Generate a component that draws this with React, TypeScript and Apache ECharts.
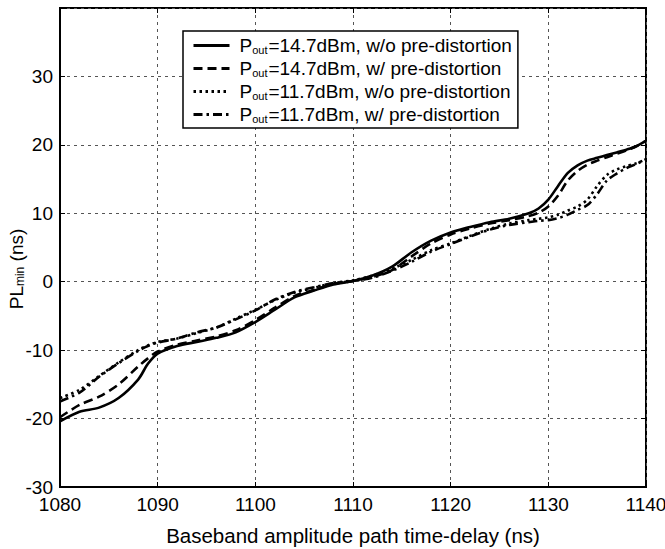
import React, { useEffect, useRef } from "react";
import * as echarts from "echarts";

const delays = [1080, 1082, 1084, 1086, 1088, 1089, 1090, 1092, 1094, 1096, 1098, 1100, 1102, 1104, 1106, 1108, 1110, 1112, 1114, 1116, 1118, 1120, 1122, 1124, 1126, 1128, 1129, 1130, 1131, 1132, 1133, 1134, 1135, 1136, 1137, 1138, 1139, 1140];

const hiNoPd = [-20.4, -19.0, -18.4, -17.0, -14.3, -12.0, -10.5, -9.4, -8.8, -8.2, -7.4, -5.9, -4.1, -2.3, -1.3, -0.4, 0.1, 0.9, 2.2, 4.3, 6.0, 7.2, 8.0, 8.7, 9.2, 10.0, 10.7, 12.0, 14.0, 15.9, 17.0, 17.7, 18.1, 18.5, 18.9, 19.3, 19.8, 20.6];
const hiPd = [-19.8, -18.0, -16.8, -15.0, -12.4, -11.2, -10.2, -9.2, -8.6, -8.0, -7.1, -5.6, -3.8, -2.1, -1.2, -0.3, 0.1, 0.7, 1.7, 3.7, 5.6, 6.9, 7.8, 8.5, 9.0, 9.6, 10.1, 11.0, 12.6, 14.8, 16.2, 17.1, 17.7, 18.2, 18.7, 19.2, 19.8, 20.6];
const loNoPd = [-17.0, -15.8, -13.8, -11.8, -10.0, -9.3, -8.8, -8.3, -7.5, -6.7, -5.4, -4.1, -2.7, -1.6, -0.9, -0.2, 0.2, 0.9, 1.9, 3.2, 4.6, 5.6, 6.7, 7.7, 8.5, 9.0, 9.2, 9.4, 9.8, 10.4, 11.0, 12.0, 14.0, 15.6, 16.4, 16.9, 17.3, 17.9];
const loPd = [-17.5, -16.2, -13.9, -11.9, -10.1, -9.4, -8.9, -8.3, -7.4, -6.7, -5.5, -4.2, -2.6, -1.5, -0.8, -0.2, 0.1, 0.6, 1.6, 2.9, 4.4, 5.5, 6.6, 7.6, 8.3, 8.7, 8.9, 9.0, 9.3, 9.8, 10.5, 11.2, 12.8, 14.8, 15.8, 16.6, 17.2, 17.9];

const seriesNames = [
  "Pout=14.7dBm, w/o pre-distortion",
  "Pout=14.7dBm, w/ pre-distortion",
  "Pout=11.7dBm, w/o pre-distortion",
  "Pout=11.7dBm, w/ pre-distortion",
];
const seriesValues = [hiNoPd, hiPd, loNoPd, loPd];
const dashTypes: any[] = ["solid", [9, 5], [2.5, 3.5], [9, 4, 2.5, 4]];

const FONT = "Liberation Sans, Arial, Helvetica, sans-serif";

export default function App() {
  const ref = useRef<HTMLDivElement>(null);
  useEffect(() => {
    if (!ref.current) return;
    const chart = echarts.init(ref.current, null, { renderer: "svg" });
    const tickStyle = { show: true, inside: true, length: 5, lineStyle: { color: "#000", width: 1 } };
    const splitLine = { show: true, lineStyle: { color: "#555", type: [3, 4], width: 1 } };
    chart.setOption({
      animation: false,
      backgroundColor: "#fff",
      grid: {
        left: 60,
        right: 19,
        top: 8,
        bottom: 62,
        containLabel: false,
        outerBoundsMode: "none",
        show: true,
        borderColor: "#000",
        borderWidth: 2,
        backgroundColor: "transparent",
      },
      graphic: [
        {
          type: "text",
          x: 16,
          y: 269,
          rotation: Math.PI / 2,
          style: {
            text: "{a|PL}{b|min}{a| (ns)}",
            align: "center",
            verticalAlign: "middle",
            fill: "#000",
            font: "19px " + FONT,
            rich: {
              a: { fontSize: 19, fontFamily: FONT, fill: "#000", color: "#000" },
              b: { fontSize: 12, fontFamily: FONT, fill: "#000", color: "#000", verticalAlign: "bottom" },
            },
          },
        },
      ],
      legend: {
        orient: "vertical",
        left: 183,
        top: 31,
        padding: [5, 6, 4, 9],
        itemGap: 4,
        itemWidth: 36,
        itemHeight: 14,
        backgroundColor: "#fff",
        borderColor: "#000",
        borderWidth: 1.5,
        borderRadius: 0,
        itemStyle: { opacity: 0 },
        lineStyle: { width: 3 },
        data: seriesNames,
        formatter: (name: string) => {
          const rest = name.slice(4);
          return "{p|P}{s|out}{t|" + rest + "}";
        },
        textStyle: {
          color: "#000",
          fontFamily: FONT,
          fontSize: 19,
          rich: {
            p: { fontSize: 19, fontFamily: FONT, color: "#000", padding: [0, 0, 0, 5] },
            s: { fontSize: 11, fontFamily: FONT, color: "#000", verticalAlign: "bottom", padding: [0, 1, 0, 0] },
            t: { fontSize: 19, fontFamily: FONT, color: "#000" },
          },
        },
      },
      xAxis: [
        {
          type: "value",
          min: 1080,
          max: 1140,
          interval: 10,
          position: "bottom",
          axisLine: { show: true, onZero: false, lineStyle: { color: "#000", width: 2 } },
          axisTick: tickStyle,
          axisLabel: { color: "#000", fontSize: 19, fontFamily: FONT, margin: 8, formatter: (v: number) => String(v) },
          splitLine,
          name: "Baseband amplitude path time-delay (ns)",
          nameLocation: "middle",
          nameGap: 38,
          nameTextStyle: { color: "#000", fontSize: 20.5, fontFamily: FONT },
        },
        {
          type: "value",
          min: 1080,
          max: 1140,
          interval: 10,
          position: "top",
          axisLine: { show: false, onZero: false },
          axisTick: tickStyle,
          axisLabel: { show: false },
          splitLine: { show: false },
        },
      ],
      yAxis: [
        {
          type: "value",
          min: -30,
          max: 40,
          interval: 10,
          position: "left",
          axisLine: { show: true, onZero: false, lineStyle: { color: "#000", width: 2 } },
          axisTick: tickStyle,
          axisLabel: {
            color: "#000",
            fontSize: 19,
            fontFamily: FONT,
            margin: 7,
            formatter: (v: number) => (v === 40 ? "" : String(v)),
          },
          splitLine,
        },
        {
          type: "value",
          min: -30,
          max: 40,
          interval: 10,
          position: "right",
          axisLine: { show: false, onZero: false },
          axisTick: tickStyle,
          axisLabel: { show: false },
          splitLine: { show: false },
        },
      ],
      series: seriesNames.map((name, i) => ({
        name,
        type: "line",
        xAxisIndex: 0,
        yAxisIndex: 0,
        showSymbol: false,
        symbol: "none",
        smooth: 0.3,
        data: delays.map((d, k) => [d, seriesValues[i][k]]),
        lineStyle: { color: "#000", width: 2.6, type: dashTypes[i] },
        itemStyle: { color: "#000" },
      })),
    });
    return () => chart.dispose();
  }, []);
  return <div ref={ref} style={{ position: "absolute", left: 0, top: 0, width: 665, height: 549 }} />;
}
